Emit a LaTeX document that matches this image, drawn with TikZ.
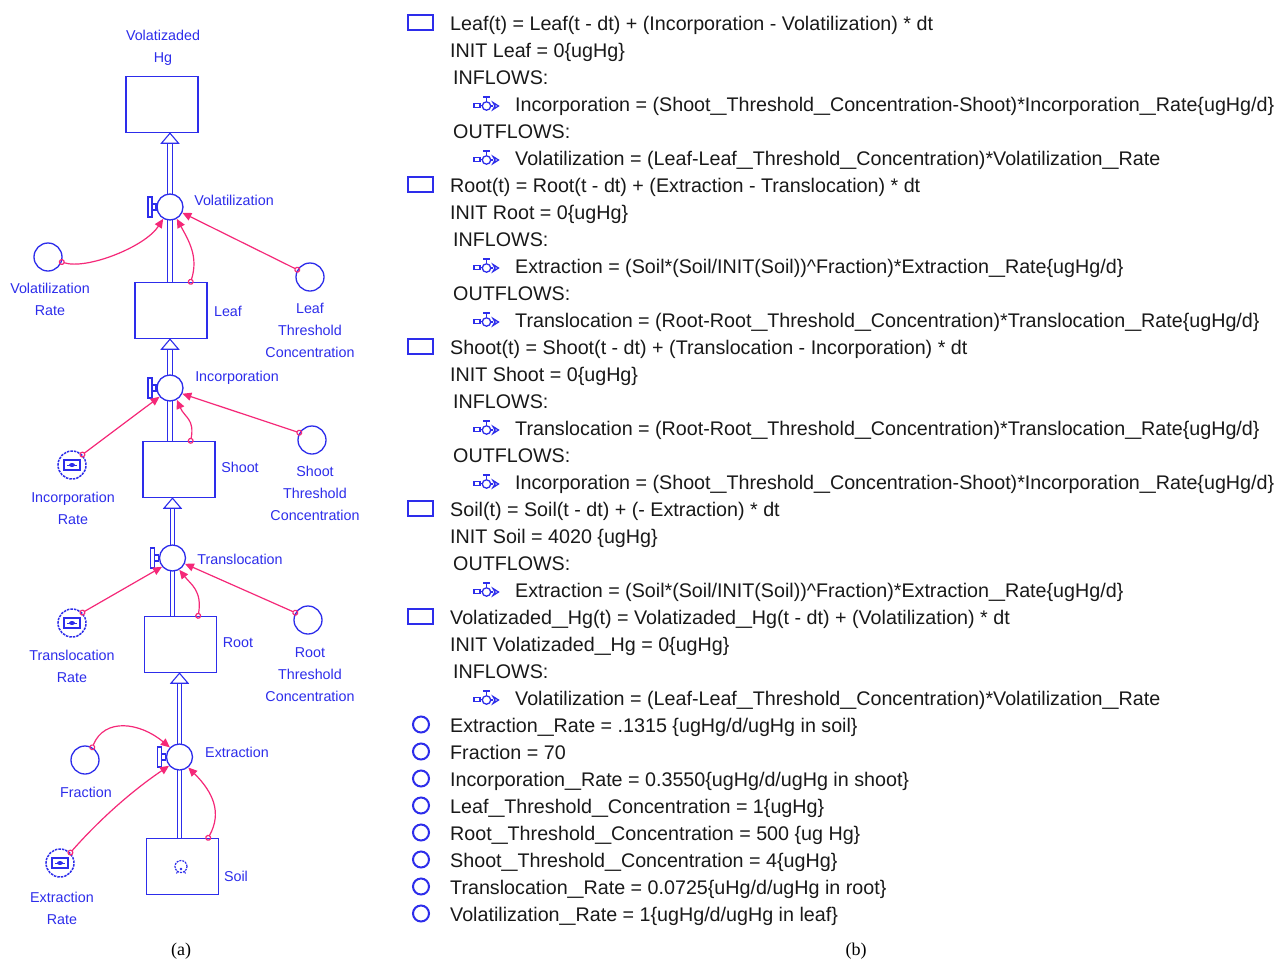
\documentclass[tikz,border=0pt]{standalone}
\usepackage{fontspec}
\setmainfont{Liberation Sans}
\newfontfamily\serifcap{Liberation Serif}
\usetikzlibrary{arrows.meta,calc}
\definecolor{sblue}{RGB}{45,45,235}
\definecolor{lpink}{RGB}{245,40,120}
\definecolor{txt}{RGB}{25,25,25}
\newcommand\us{\scalebox{1.45}[1]{\_}}
\newcommand\incEq{Incorporation = (Shoot\us Threshold\us Concentration-Shoot)*Incorporation\us Rate\{ugHg/d\}}
\newcommand\volEq{Volatilization = (Leaf-Leaf\us Threshold\us Concentration)*Volatilization\us Rate}
\newcommand\extEq{Extraction = (Soil*(Soil/INIT(Soil))\textasciicircum Fraction)*Extraction\us Rate\{ugHg/d\}}
\newcommand\traEq{Translocation = (Root-Root\us Threshold\us Concentration)*Translocation\us Rate\{ugHg/d\}}
\begin{document}
\begin{tikzpicture}[x=1pt,y=-1pt,
  stock/.style={draw=sblue,line width=1.4pt,fill=white,rectangle,minimum width=72pt,minimum height=56pt,inner sep=0pt},
  valve/.style={draw=sblue,line width=1.3pt,fill=white,circle,minimum size=26pt,inner sep=0pt},
  conv/.style={draw=sblue,line width=1.3pt,circle,minimum size=28pt,inner sep=0pt},
  gconv/.style={conv,line width=1.5pt,dash pattern=on 2.5pt off 1pt},
  lbl/.style={text=sblue,font=\fontsize{14.3}{22}\selectfont,align=center,inner sep=0pt},
  pipe/.style={draw=sblue,double=white,double distance=3.5pt,line width=1.1pt},
  harrow/.style={draw=sblue,fill=white,line width=1.1pt},
  link/.style={draw=lpink,line width=1.2pt,shorten <=-3pt,{Circle[open,length=6pt,width=6pt]}-{Triangle[length=9pt,width=8pt]}},
  eq/.style={text=txt,font=\fontsize{19.7}{27}\selectfont,anchor=base west,inner sep=0pt},
  captext/.style={font=\serifcap\fontsize{18}{20}\selectfont,inner sep=0pt},
  valvebar/.pic={
    \draw[sblue,line width=1.1pt] (-22,-10) rectangle (-18,10);
    \draw[sblue,line width=1.1pt] (-18,-3) rectangle (-14,3);
    \draw[sblue,line width=1.1pt] (-14,0) -- (-12.5,0);},
  ginner/.pic={
    \draw[sblue,line width=1.2pt] (-8,-5) rectangle (8,5);
    \draw[sblue,line width=1pt] (-5,0) -- (5,0);
    \fill[sblue] (0,0) ellipse (3pt and 2pt);},
  stockicon/.pic={\draw[sblue,line width=1.5pt] (-12.5,-7.5) rectangle (12.5,7.5);},
  convicon/.pic={\draw[sblue,line width=2pt] (0,0) circle (8pt);},
  flowicon/.pic={
    \draw[sblue,line width=1.3pt] (-12,0) rectangle (-6,4);
    \draw[sblue,line width=1.3pt] (-6,2) -- (-3.7,2);
    \draw[sblue,line width=1.3pt] (0.5,2.5) circle (4.2pt);
    \draw[sblue,line width=1.3pt] (-3,-6.5) -- (4,-6.5);
    \draw[sblue,line width=1.3pt] (0.5,-6.5) -- (0.5,-1.7);
    \draw[sblue,line width=1.3pt] (4.7,2.5) -- (7,2.5);
    \draw[sblue,line width=1.3pt] (7,-1) -- (12.5,2.5) -- (7,6) -- (9,2.5) -- cycle;}
]
\path[use as bounding box,fill=white] (0,0) rectangle (1281,962);

% ---------------- left: stock and flow diagram ----------------
\coordinate (volc) at (170,207);
\coordinate (incc) at (170,388);
\coordinate (trac) at (172.5,558);
\coordinate (extc) at (179.5,757);

\node[stock] (vhg) at (162,104.5) {};
\node[stock] (leaf) at (171,310.5) {};
\node[stock] (shoot) at (179,469.5) {};
\node[stock] (root) at (180.5,644.5) {};
\node[stock] (soil) at (182.5,866.5) {};

% pipes
\draw[pipe] (volc |- leaf.north) -- ($(volc |- vhg.south)+(0,9)$);
\draw[harrow] (volc |- vhg.south) -- ++(-8.5,10) -- ++(17,0) -- cycle;
\draw[pipe] (incc |- shoot.north) -- ($(incc |- leaf.south)+(0,9)$);
\draw[harrow] (incc |- leaf.south) -- ++(-8.5,10) -- ++(17,0) -- cycle;
\draw[pipe] (trac |- root.north) -- ($(trac |- shoot.south)+(0,9)$);
\draw[harrow] (trac |- shoot.south) -- ++(-8.5,10) -- ++(17,0) -- cycle;
\draw[pipe] (extc |- soil.north) -- ($(extc |- root.south)+(0,9)$);
\draw[harrow] (extc |- root.south) -- ++(-8.5,10) -- ++(17,0) -- cycle;

% valves
\node[valve] (vol) at (volc) {};
\node[valve] (inc) at (incc) {};
\node[valve] (tra) at (trac) {};
\node[valve] (ext) at (extc) {};
\pic at (vol) {valvebar};
\pic at (inc) {valvebar};
\pic at (tra) {valvebar};
\pic at (ext) {valvebar};

% soil icon
\draw[sblue,line width=1.2pt,dash pattern=on 2pt off 1pt] ($(soil.center)+(-1.5,0)$) circle (6pt);
\draw[sblue,line width=1pt] ($(soil.center)+(-5,5)$) -- ($(soil.center)+(-6,7)$);
\draw[sblue,line width=1pt] ($(soil.center)+(2,5)$) -- ($(soil.center)+(3,7)$);
\fill[sblue] ($(soil.center)+(-1.5,2.5)$) circle (1.4pt);

% converters
\node[conv] (vr) at (48,257) {};
\node[conv] (lt) at (310,277) {};
\node[gconv] (ir) at (72,465) {};
\node[conv] (st) at (312,440) {};
\node[gconv] (tr) at (72,623) {};
\node[conv] (rt) at (308,620) {};
\node[conv] (fr) at (85,760) {};
\node[gconv] (er) at (60,863) {};
\pic at (ir) {ginner};
\pic at (tr) {ginner};
\pic at (er) {ginner};

% labels
\node[lbl] (vhgl) at (163,48) {Volatizaded\\Hg};
\node[lbl] (leafl) at (228,311) {Leaf};
\node[lbl] (shootl) at (240,467) {Shoot};
\node[lbl] (rootl) at (238,643) {Root};
\node[lbl] (soill) at (236,876) {Soil};
\node[lbl] (voll) at (234,200) {Volatilization};
\node[lbl] (incl) at (237,378) {Incorporation};
\node[lbl] (tral) at (240,559) {Translocation};
\node[lbl] (extl) at (237,752) {Extraction};
\node[lbl] (vrl) at (50,299) {Volatilization\\Rate};
\node[lbl] (ltl) at (310,330) {Leaf\\Threshold\\Concentration};
\node[lbl] (irl) at (73,508) {Incorporation\\Rate};
\node[lbl] (stl) at (315,493) {Shoot\\Threshold\\Concentration};
\node[lbl] (trl) at (72,666) {Translocation\\Rate};
\node[lbl] (rtl) at (310,675) {Root\\Threshold\\Concentration};
\node[lbl] (frl) at (86,792) {Fraction};
\node[lbl] (erl) at (62,908) {Extraction\\Rate};

% links
\draw[link] (vr.-20) .. controls ($(vr.-20)+(25,8)$) and ($(vol.-120)+(-18,28)$) .. (vol.-120);
\draw[link] (lt.150) -- (vol.-25);
\coordinate (leafo) at ($(leaf.north east)+(-17,0)$);
\draw[link] (leafo) .. controls ($(leafo)+(8,-25)$) and ($(vol.-60)+(12,22)$) .. (vol.-60);
\draw[link] (ir.45) -- (inc.-140);
\draw[link] (st.150) -- (inc.-25);
\coordinate (shooto) at ($(shoot.north east)+(-25,0)$);
\draw[link] (shooto) .. controls ($(shooto)+(4,-22)$) and ($(inc.-60)+(8,18)$) .. (inc.-60);
\draw[link] (tr.45) -- (tra.-140);
\draw[link] (rt.150) -- (tra.-25);
\coordinate (rooto) at ($(root.north east)+(-19,0)$);
\draw[link] (rooto) .. controls ($(rooto)+(4,-25)$) and ($(tra.-60)+(12,15)$) .. (tra.-60);
\draw[link] (fr.60) .. controls ($(fr.60)+(12,-30)$) and ($(ext.135)+(-30,-25)$) .. (ext.135);
\draw[link] (er.45) .. controls ($(er.45)+(29,-33)$) and ($(ext.-140)+(-37,25)$) .. (ext.-140);
\coordinate (soilo) at ($(soil.north east)+(-11,0)$);
\draw[link] (soilo) .. controls ($(soilo)+(14,-25)$) and ($(ext.-50)+(25,25)$) .. (ext.-50);

\node[captext] (capa) at (181,951) {(a)};

% ---------------- right: equations ----------------
\pic at (420.5,22.5) {stockicon};
\node[eq] (e0) at (450,30) {Leaf(t) = Leaf(t - dt) + (Incorporation - Volatilization) * dt};
\node[eq] (e1) at (450,57) {INIT Leaf = 0\{ugHg\}};
\node[eq] (e2) at (453,84) {INFLOWS:};
\pic at (486,103.5) {flowicon};
\node[eq] (e3) at (515,111) {\incEq};
\node[eq] (e4) at (453,138) {OUTFLOWS:};
\pic at (486,157.5) {flowicon};
\node[eq] (e5) at (515,165) {\volEq};
\pic at (420.5,184.5) {stockicon};
\node[eq] (e6) at (450,192) {Root(t) = Root(t - dt) + (Extraction - Translocation) * dt};
\node[eq] (e7) at (450,219) {INIT Root = 0\{ugHg\}};
\node[eq] (e8) at (453,246) {INFLOWS:};
\pic at (486,265.5) {flowicon};
\node[eq] (e9) at (515,273) {\extEq};
\node[eq] (e10) at (453,300) {OUTFLOWS:};
\pic at (486,319.5) {flowicon};
\node[eq] (e11) at (515,327) {\traEq};
\pic at (420.5,346.5) {stockicon};
\node[eq] (e12) at (450,354) {Shoot(t) = Shoot(t - dt) + (Translocation - Incorporation) * dt};
\node[eq] (e13) at (450,381) {INIT Shoot = 0\{ugHg\}};
\node[eq] (e14) at (453,408) {INFLOWS:};
\pic at (486,427.5) {flowicon};
\node[eq] (e15) at (515,435) {\traEq};
\node[eq] (e16) at (453,462) {OUTFLOWS:};
\pic at (486,481.5) {flowicon};
\node[eq] (e17) at (515,489) {\incEq};
\pic at (420.5,508.5) {stockicon};
\node[eq] (e18) at (450,516) {Soil(t) = Soil(t - dt) + (- Extraction) * dt};
\node[eq] (e19) at (450,543) {INIT Soil = 4020 \{ugHg\}};
\node[eq] (e20) at (453,570) {OUTFLOWS:};
\pic at (486,589.5) {flowicon};
\node[eq] (e21) at (515,597) {\extEq};
\pic at (420.5,616.5) {stockicon};
\node[eq] (e22) at (450,624) {Volatizaded\us Hg(t) = Volatizaded\us Hg(t - dt) + (Volatilization) * dt};
\node[eq] (e23) at (450,651) {INIT Volatizaded\us Hg = 0\{ugHg\}};
\node[eq] (e24) at (453,678) {INFLOWS:};
\pic at (486,697.5) {flowicon};
\node[eq] (e25) at (515,705) {\volEq};
\pic at (421,724.5) {convicon};
\node[eq] (e26) at (450,732) {Extraction\us Rate = .1315 \{ugHg/d/ugHg in soil\}};
\pic at (421,751.5) {convicon};
\node[eq] (e27) at (450,759) {Fraction = 70};
\pic at (421,778.5) {convicon};
\node[eq] (e28) at (450,786) {Incorporation\us Rate = 0.3550\{ugHg/d/ugHg in shoot\}};
\pic at (421,805.5) {convicon};
\node[eq] (e29) at (450,813) {Leaf\us Threshold\us Concentration = 1\{ugHg\}};
\pic at (421,832.5) {convicon};
\node[eq] (e30) at (450,840) {Root\us Threshold\us Concentration = 500 \{ug Hg\}};
\pic at (421,859.5) {convicon};
\node[eq] (e31) at (450,867) {Shoot\us Threshold\us Concentration = 4\{ugHg\}};
\pic at (421,886.5) {convicon};
\node[eq] (e32) at (450,894) {Translocation\us Rate = 0.0725\{uHg/d/ugHg in root\}};
\pic at (421,913.5) {convicon};
\node[eq] (e33) at (450,921) {Volatilization\us Rate = 1\{ugHg/d/ugHg in leaf\}};

\node[captext] (capb) at (856,951) {(b)};
\end{tikzpicture}
\end{document}
